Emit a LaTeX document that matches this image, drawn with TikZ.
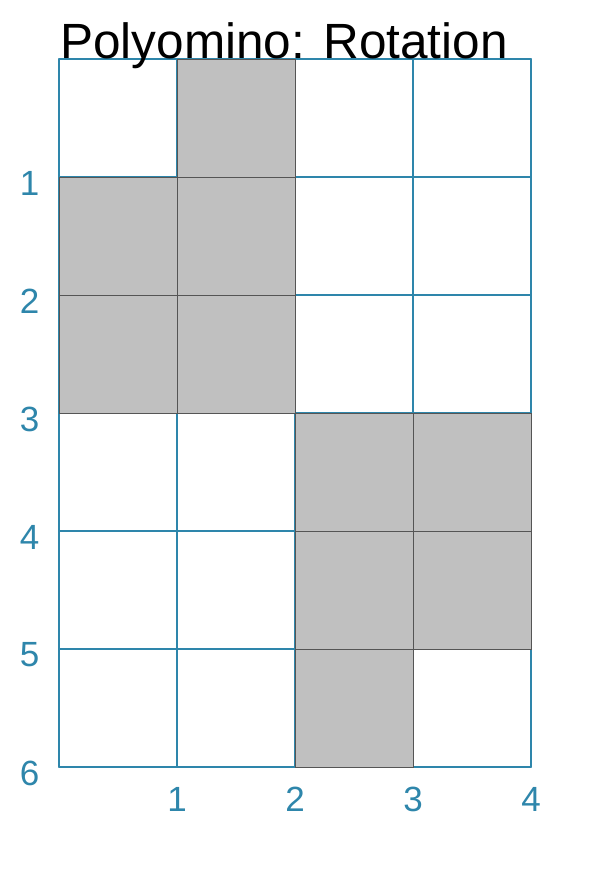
\documentclass[tikz,border=0pt]{standalone}
\usepackage{fontspec}
\setmainfont{Liberation Sans}
\definecolor{gridblue}{RGB}{46,134,171}
\definecolor{cellgray}{RGB}{192,192,192}
\definecolor{cellborder}{RGB}{85,85,85}
\tikzset{
  gridline/.style={draw=gridblue, line width=1.8pt, line cap=round, line join=round},
  cell/.style={fill=cellgray, draw=cellborder, line width=0.8pt},
  axislabel/.style={text=gridblue, inner sep=0pt, font=\fontsize{35}{42}\selectfont},
  titlelabel/.style={text=black, inner sep=0pt, anchor=base west, font=\fontsize{49.5}{58}\selectfont}
}
\begin{document}
\begin{tikzpicture}[x=1pt,y=-1pt]
\useasboundingbox (0,0) rectangle (613,875);
\fill[white] (0,0) rectangle (613,875);
% grid
\foreach \i in {0,...,4} {
  \draw[gridline] ({59+118*\i},59) -- ({59+118*\i},767);
}
\foreach \j in {0,...,6} {
  \draw[gridline] (59,{59+118*\j}) -- (531,{59+118*\j});
}
% filled cells (column, row)
\foreach \c/\r in {1/0, 0/1, 1/1, 0/2, 1/2, 2/3, 3/3, 2/4, 3/4, 2/5} {
  \draw[cell] ({59+118*\c},{59+118*\r}) rectangle ++(118,118);
}
% left labels
\foreach \j in {1,...,6} {
  \node[axislabel] (row\j) at (29.5,{59+118*\j+6}) {\j};
}
% bottom labels
\foreach \i in {1,...,4} {
  \node[axislabel] (col\i) at ({59+118*\i},799) {\i};
}
% title
\node[titlelabel] (title) at (60,59) {Polyomino: Rotation};
\end{tikzpicture}
\end{document}
